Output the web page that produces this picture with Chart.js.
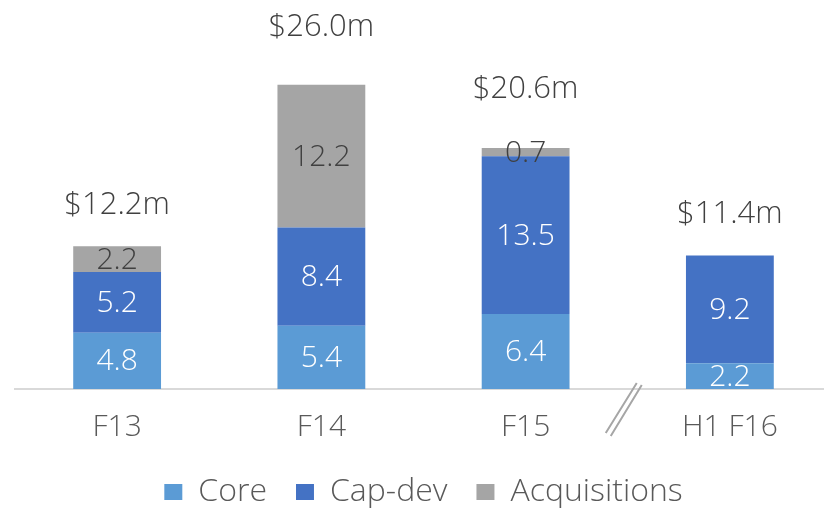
<!DOCTYPE html>
<html>
<head>
<meta charset="utf-8">
<script src="https://cdn.jsdelivr.net/npm/chart.js@4/dist/chart.umd.min.js"></script>
<style>
  html, body { margin: 0; padding: 0; background: #fff; overflow: hidden; }
  #chartBlock { width: 824px; height: 508px; overflow: hidden; }
</style>
</head>
<body>
<div id="chartBlock"><canvas id="barChart" width="840" height="520"></canvas></div>
<script>
'use strict';

var categories = ['F13', 'F14', 'F15', 'H1 F16'];
var coreValues = [4.8, 5.4, 6.4, 2.2];
var capDevValues = [5.2, 8.4, 13.5, 9.2];
var acquisitionValues = [2.2, 12.2, 0.7, null];
var totalLabels = ['$12.2m', '$26.0m', '$20.6m', '$11.4m'];

// the totals sit at hand-placed heights above each bar
var totalLabelGaps = [41, 58, 59, 41];

var fontName = '"Open Sans", Lato, sans-serif';
var fontWeight = '300';

/**
 * Writes the value in the middle of every segment, the total above each bar
 * and the // break mark between F15 and H1 F16
 */
var labelPlugin = {
  id: 'barLabels',
  afterDatasetsDraw: function(chart) {
    var ctx = chart.ctx;
    var xScale = chart.scales.x;
    var yScale = chart.scales.y;
    ctx.save();
    ctx.font = fontWeight + ' 30px ' + fontName;
    ctx.textAlign = 'center';
    ctx.textBaseline = 'middle';

    chart.data.datasets.forEach(function(dataset, d) {
      chart.getDatasetMeta(d).data.forEach(function(bar, i) {
        var value = dataset.data[i];
        if (value === null) return;
        ctx.fillStyle = dataset.labelColor;
        ctx.fillText(value.toFixed(1), bar.x, (bar.y + bar.base) / 2 + 1);
      });
    });

    ctx.font = fontWeight + ' 31px ' + fontName;
    ctx.fillStyle = '#404040';
    categories.forEach(function(cat, i) {
      var sum = coreValues[i] + capDevValues[i] + (acquisitionValues[i] || 0);
      ctx.fillText(totalLabels[i], xScale.getPixelForValue(i), yScale.getPixelForValue(sum) - totalLabelGaps[i]);
    });

    // axis break
    var mx = (xScale.getPixelForValue(2) + xScale.getPixelForValue(3)) / 2;
    var base = chart.chartArea.bottom;
    ctx.strokeStyle = '#a6a6a6';
    ctx.lineWidth = 2;
    ctx.beginPath();
    ctx.moveTo(mx - 22, base + 44);
    ctx.lineTo(mx + 9, base - 6);
    ctx.moveTo(mx - 17, base + 47);
    ctx.lineTo(mx + 14, base - 4);
    ctx.stroke();
    ctx.restore();
  }
};

var drawBarChart = function(canvasId) {
  var canvasContext = document.getElementById(canvasId).getContext('2d');

  new Chart(canvasContext, {
    type: 'bar',
    data: {
      labels: categories,
      datasets: [{
        label: 'Core',
        data: coreValues,
        backgroundColor: '#5b9bd5',
        labelColor: '#ffffff'
      }, {
        label: 'Cap-dev',
        data: capDevValues,
        backgroundColor: '#4472c4',
        labelColor: '#ffffff'
      }, {
        label: 'Acquisitions',
        data: acquisitionValues,
        backgroundColor: '#a5a5a5',
        labelColor: '#404040'
      }]
    },
    options: {
      responsive: false,
      animation: false,
      devicePixelRatio: 1,
      datasets: {
        bar: { categoryPercentage: 1, barPercentage: 0.43 }
      },
      layout: {
        padding: { top: 38, left: 15, right: 8, bottom: 2 }
      },
      scales: {
        x: {
          stacked: true,
          grid: { display: false, drawTicks: false },
          border: { display: true, color: '#d9d9d9', width: 2 },
          ticks: { color: '#595959', font: { family: fontName, size: 30, weight: fontWeight }, padding: 20 },
          afterFit: function(scale) {
            // labels keep their padding above, but no padding below
            scale.height = 58;
          }
        },
        y: {
          stacked: true,
          display: false,
          min: 0,
          max: 30
        }
      },
      plugins: {
        legend: {
          position: 'bottom',
          labels: {
            color: '#595959',
            font: { family: fontName, size: 32, weight: fontWeight },
            boxWidth: 18,
            boxHeight: 16,
            padding: 29
          }
        },
        tooltip: { enabled: false }
      }
    },
    plugins: [labelPlugin]
  });
};

drawBarChart('barChart');
</script>
</body>
</html>
